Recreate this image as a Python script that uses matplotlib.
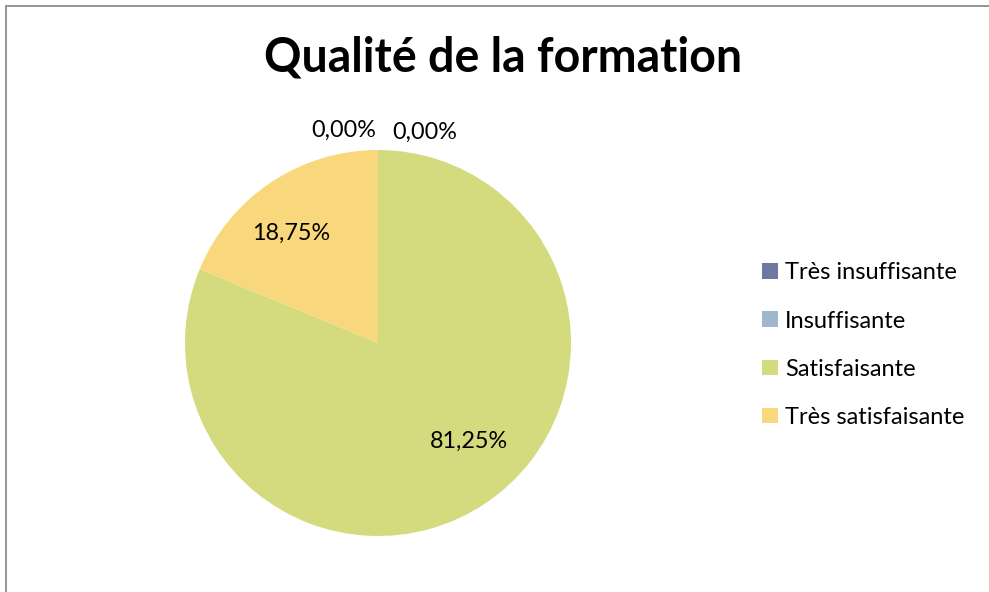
import numpy as np
import matplotlib
matplotlib.use("Agg")
import matplotlib.pyplot as plt
from matplotlib.patches import Patch, Rectangle

# Chart data
categories = ["Très insuffisante", "Insuffisante", "Satisfaisante", "Très satisfaisante"]
shares = [0.0, 0.0, 81.25, 18.75]
colours = ["#6E79A1", "#9EB8D0", "#D4DB7E", "#F9D87D"]

plt.rcParams['font.family'] = ['Lato', 'DejaVu Sans']

fig = plt.figure(figsize=(9.89, 5.92), dpi=100)

# Grey chart frame (only top and left edges visible)
fig.patches.append(Rectangle((5.5 / 989, -0.1), 1.2, 1.1 - 5.5 / 592,
                             transform=fig.transFigure, fill=False,
                             edgecolor="#8C8C8C", linewidth=1.3))

fig.text(503 / 989, 1 - 58 / 592, "Qualité de la formation", ha="center", va="center",
         fontsize=33.5, fontweight="bold")

ax = fig.add_axes([185 / 989, 56 / 592, 386 / 989, 386 / 592])
wedges, texts, autotexts = ax.pie(shares, colors=colours, startangle=90, counterclock=False,
                                  autopct=lambda p: ("%.2f%%" % p).replace(".", ","),
                                  pctdistance=0.71, radius=1.0,
                                  textprops={"fontsize": 16.8})
ax.set_xlim(-1, 1)
ax.set_ylim(-1, 1)
ax.set_aspect("equal")

# Zero slices: Excel puts their labels above the top of the pie
zero_idx = [i for i, v in enumerate(shares) if v == 0]
for k, i in enumerate(zero_idx):
    autotexts[i].set_position((-0.18 + 0.42 * k, 1.10 - 0.01 * k))
    autotexts[i].set_ha("center")

# Nudge the other labels towards Excel's best-fit spots
autotexts[2].set_position((0.47, -0.51))
autotexts[3].set_position((-0.45, 0.57))

handles = [Patch(facecolor=c, edgecolor="none") for c in colours]
fig.legend(handles, categories, loc="upper left", bbox_to_anchor=(753 / 989, 1 - 253 / 592),
           frameon=False, fontsize=17, handlelength=0.65, handleheight=0.65,
           handletextpad=0.3, labelspacing=1.15, borderaxespad=0)

fig.savefig("out.png", dpi=100, facecolor="white")
